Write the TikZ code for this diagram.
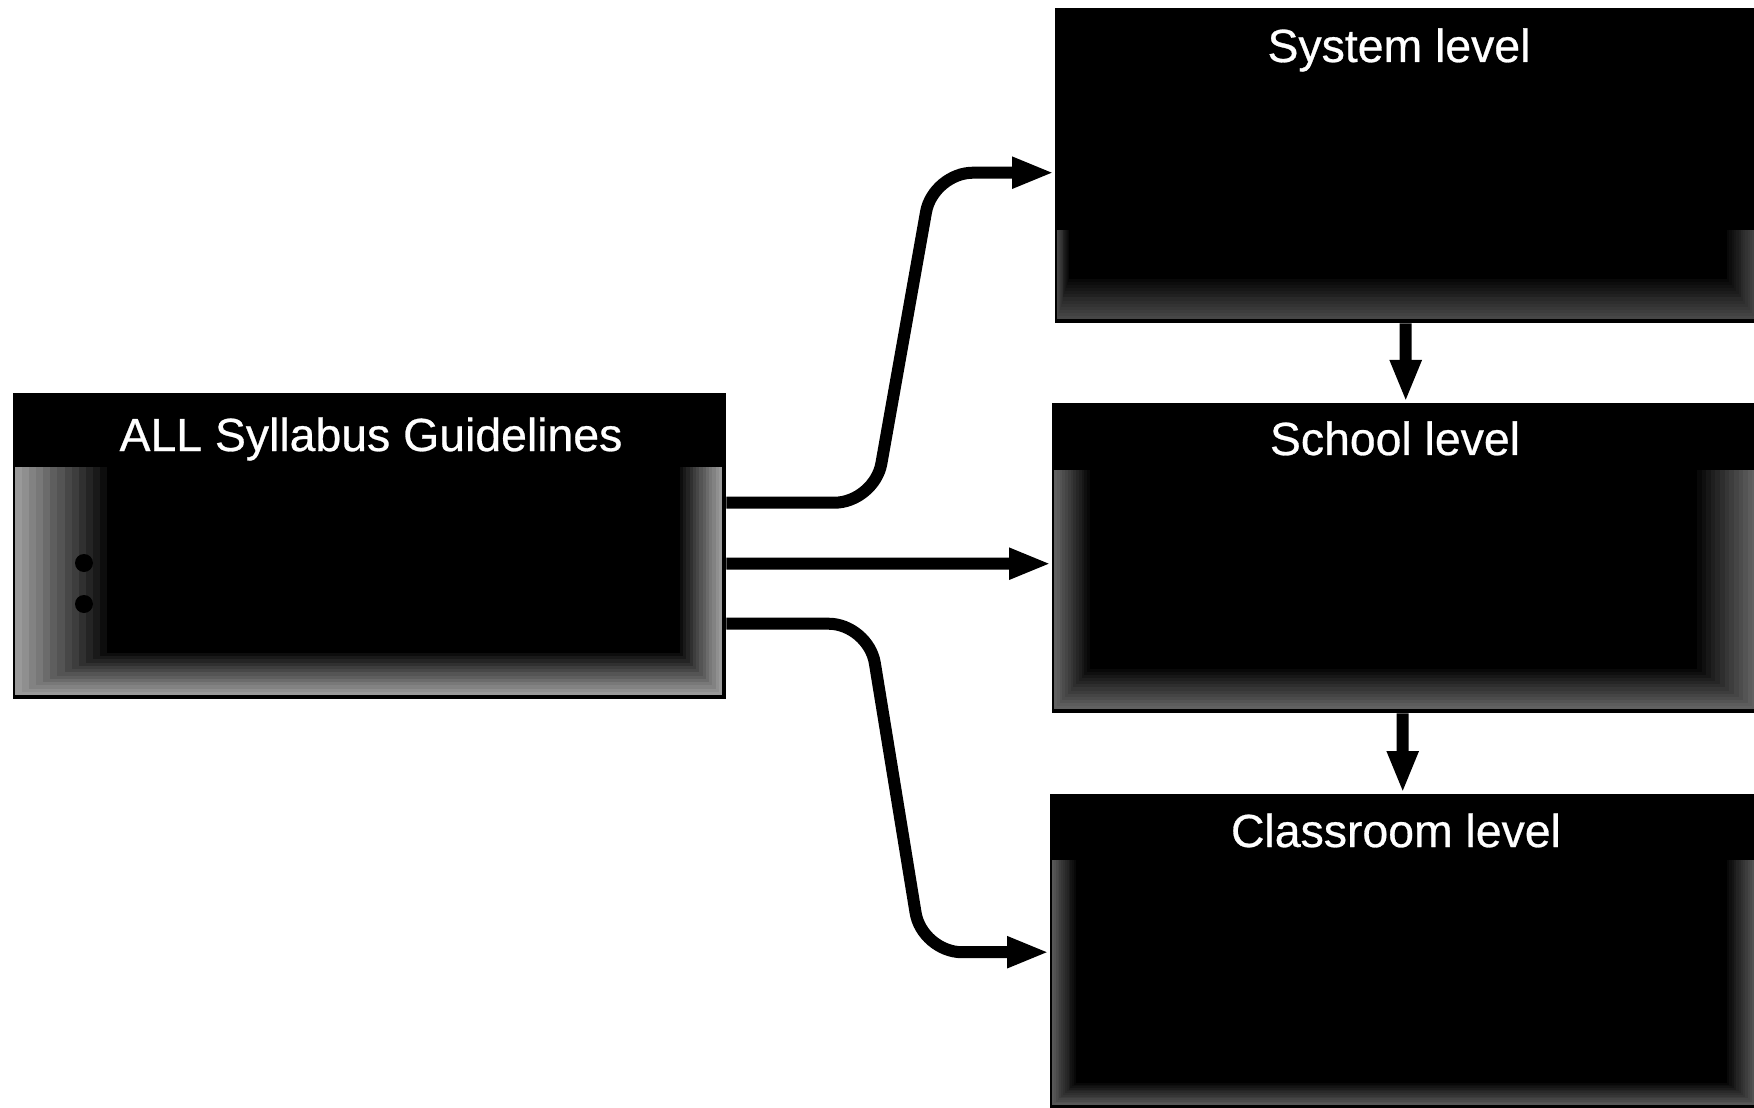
\documentclass[tikz,border=0pt]{standalone}
\usepackage{fontspec}
\setmainfont{Liberation Sans}
\newfontfamily\headfont[FakeBold=0.6]{Liberation Sans}
\usetikzlibrary{arrows.meta,calc}

\tikzset{
  panel/.style={fill=black, draw=none, inner sep=0pt, anchor=north west},
  heading/.style={text=white, font=\headfont\fontsize{13.2}{15}\selectfont, inner sep=0pt, anchor=base},
  conn/.style={line width=1.2mm, -{Triangle[length=4.2mm,width=2.9mm]}, rounded corners=4mm},
}

% Grainy body of a panel: nested rectangles from a light rim to a black core.
% #1 #2 #3 #4 = left top right bottom, #5 #6 #7 = rim width left/right/bottom, #8 = rim shade
\newcommand\grainpanel[8]{%
  \foreach \k in {0,...,13}{
    \pgfmathsetmacro\gl{#1+#5*\k/13}
    \pgfmathsetmacro\gr{#3-#6*\k/13}
    \pgfmathsetmacro\gb{#4-#7*\k/13}
    \pgfmathtruncatemacro\gc{#8+(100-#8)*\k/13}
    \fill[black!\gc] (\gl,#2) rectangle (\gr,\gb);
  }}

\begin{document}
\begin{tikzpicture}[x=0.1mm, y=-0.1mm]
  \fill[white] (0,0) rectangle (1754,1108);
  \useasboundingbox (0,0) rectangle (1754,1108);

  % panels
  \node[panel, minimum width=71.3mm, minimum height=30.6mm] (guide) at (12,392) {};
  \node[panel, minimum width=70.6mm, minimum height=31.5mm] (system) at (1054,7) {};
  \node[panel, minimum width=70.9mm, minimum height=31.0mm] (school) at (1051,402) {};
  \node[panel, minimum width=71.1mm, minimum height=31.7mm] (classroom) at (1049,793) {};

  % textured bodies
  \grainpanel{15}{467}{722}{695}{92}{42}{42}{40}
  \fill[black] (84,563) circle (9);
  \fill[black] (84,604) circle (9);
  \grainpanel{1057}{230}{1757}{319}{12}{30}{40}{72}
  \grainpanel{1054}{470}{1757}{709}{36}{60}{40}{62}
  \grainpanel{1052}{860}{1757}{1105}{24}{30}{22}{66}

  % headings
  \node[heading] (tguide) at (371,451) {ALL Syllabus Guidelines};
  \node[heading] (tsystem) at (1399,62) {System level};
  \node[heading] (tschool) at (1395,455) {School level};
  \node[heading] (tclass) at (1396,847) {Classroom level};

  % connectors
  \draw[conn] ([yshift=4.3mm]guide.east) -- ++(148,0)
    -- ([xshift=-12.1mm,yshift=-0.75mm]system.west) -- ([yshift=-0.75mm]system.west);
  \draw[conn] ([yshift=-1.8mm]guide.east) -- ([yshift=-0.6mm]school.west);
  \draw[conn] ([yshift=-7.8mm]guide.east) -- ++(142,0)
    -- ([xshift=-12.7mm]classroom.west) -- (classroom.west);
  \draw[conn] ([xshift=-0.2mm]system.south) -- ([xshift=-0.05mm]school.north);
  \draw[conn] ([xshift=-0.35mm]school.south) -- ([xshift=-0.25mm]classroom.north);
\end{tikzpicture}
\end{document}
